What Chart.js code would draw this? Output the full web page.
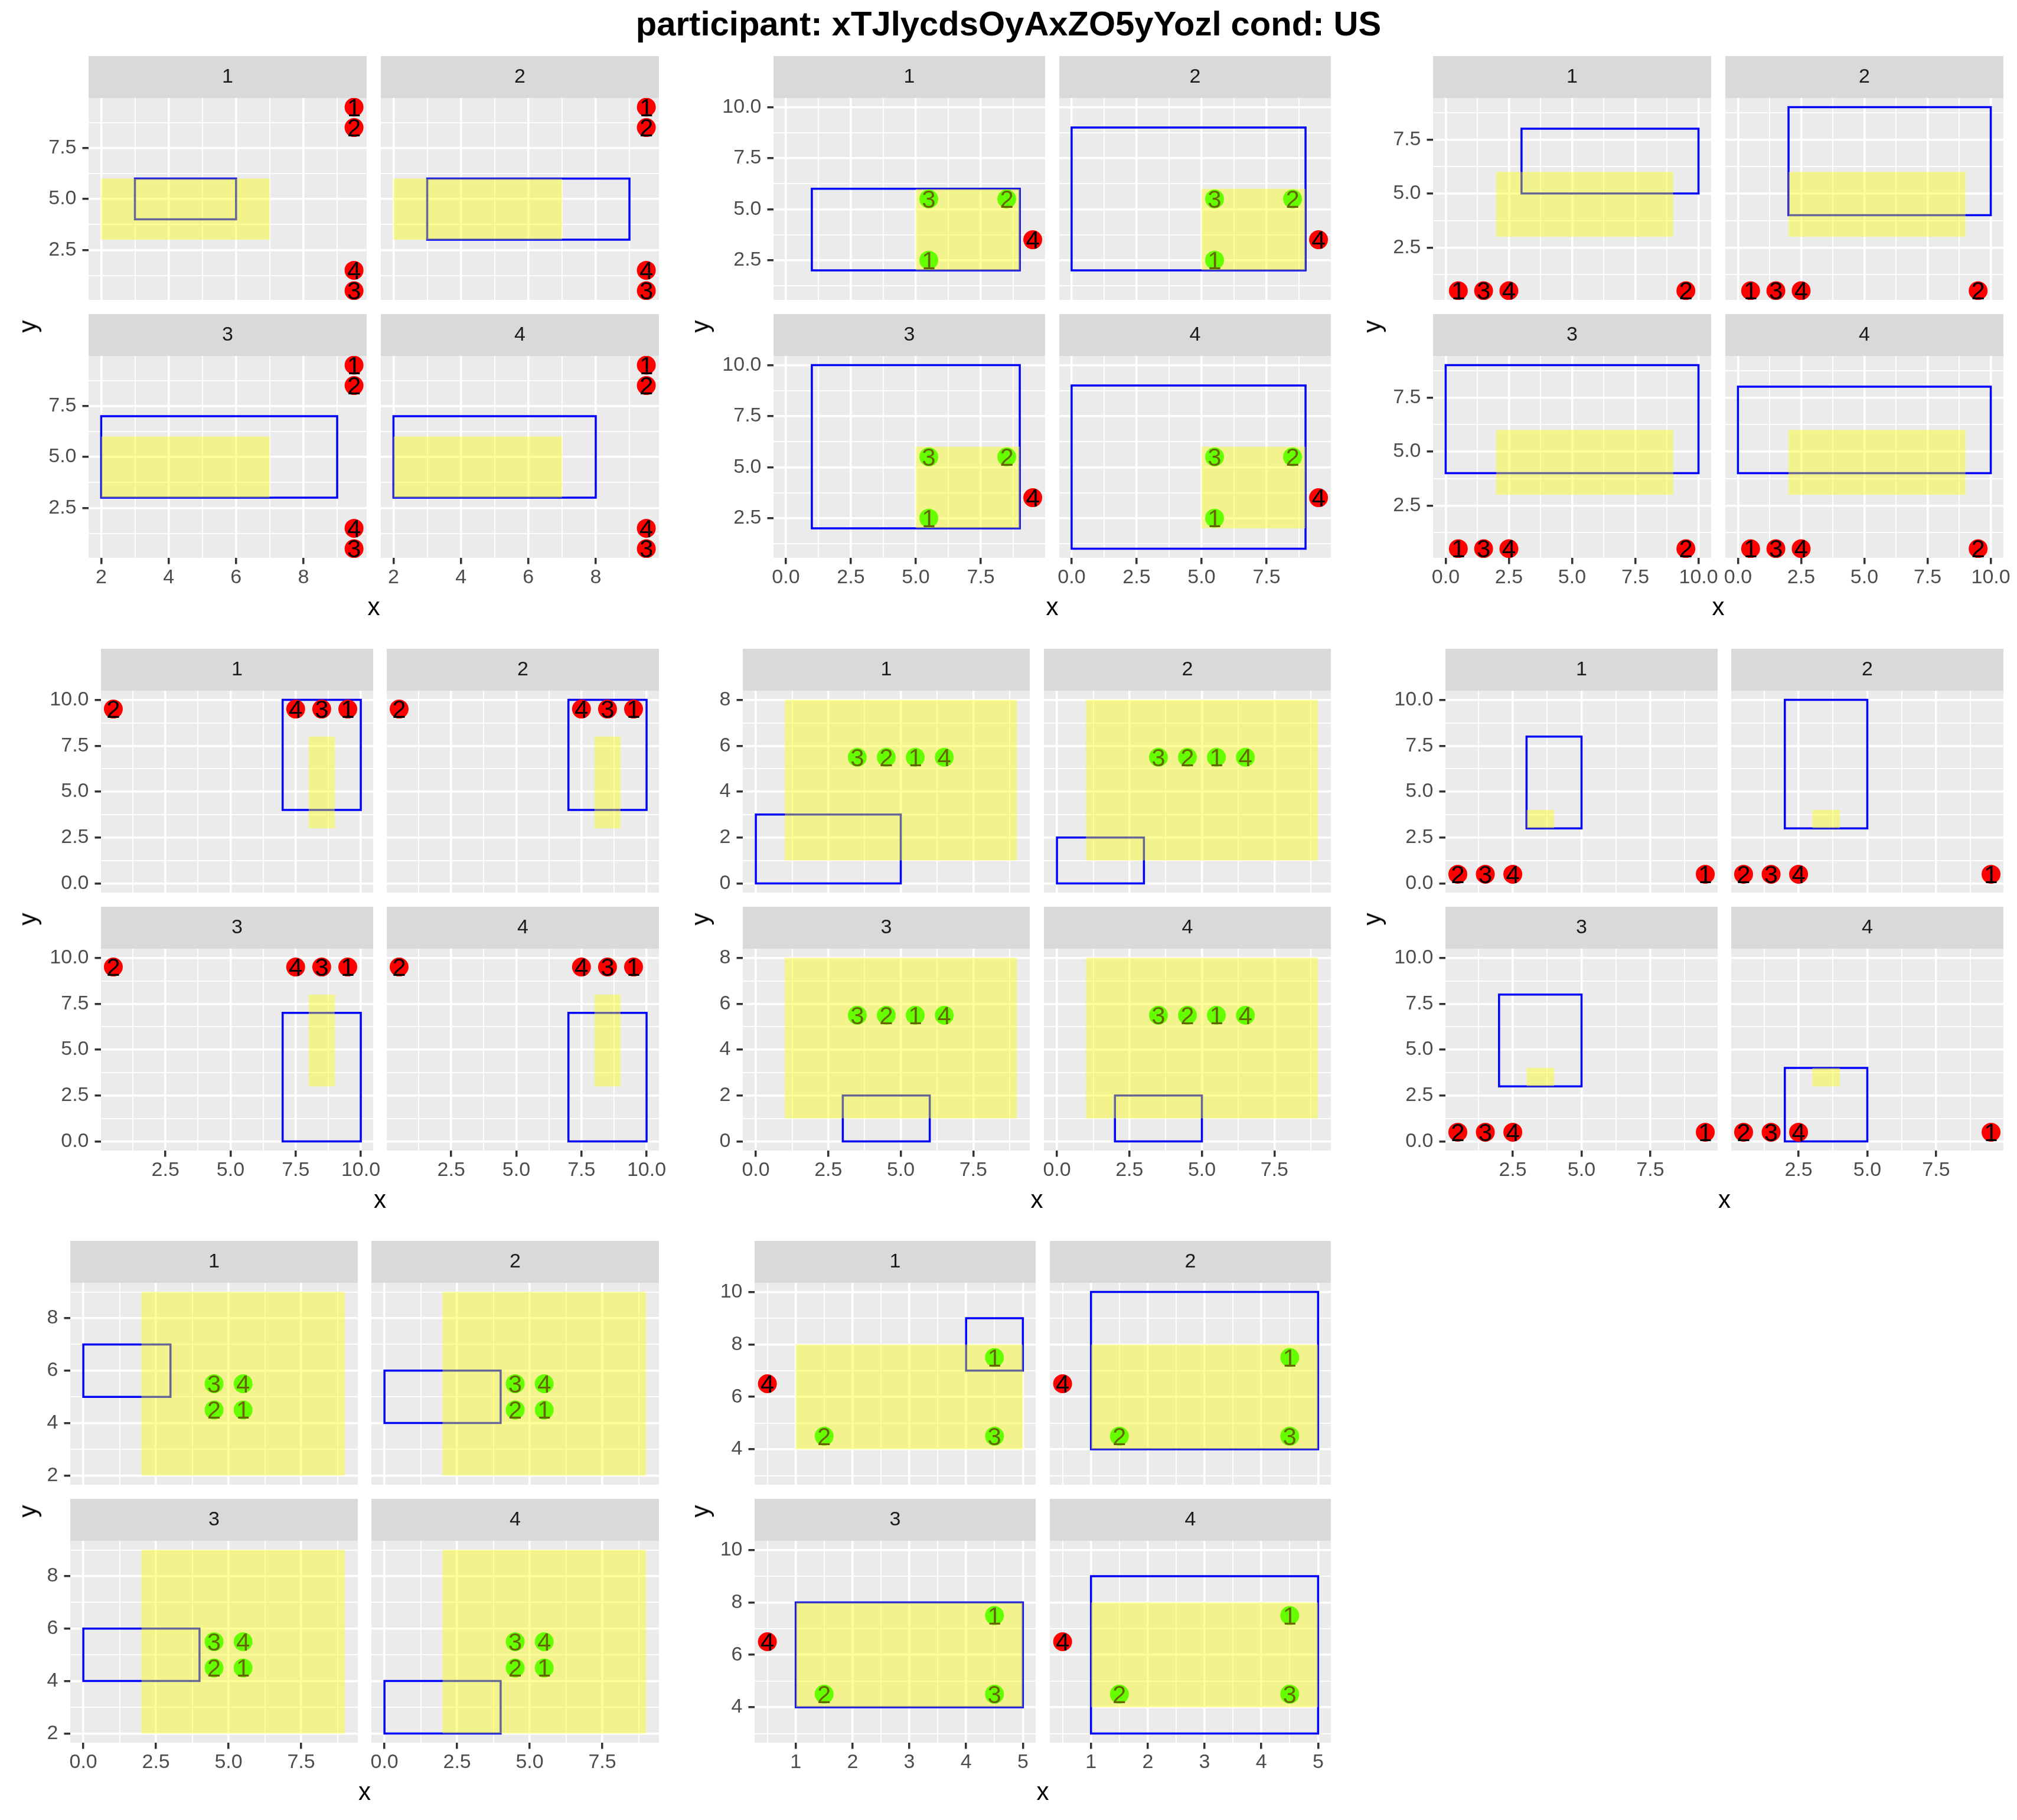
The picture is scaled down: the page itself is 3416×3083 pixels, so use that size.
<!DOCTYPE html>
<html><head><meta charset="utf-8"><title>participant chart</title>
<script src="https://cdn.jsdelivr.net/npm/chart.js@4.4.1/dist/chart.umd.min.js"></script>
<style>
html,body{margin:0;padding:0;background:#ffffff;}
#page{position:relative;width:3416px;height:3083px;overflow:hidden;background:#fff;font-family:'Liberation Sans',Arial,Helvetica,sans-serif;}
#page canvas{position:absolute;}
.lbl{position:absolute;white-space:nowrap;color:#000;z-index:5;text-align:center;}
</style></head><body><div id="page"></div>
<script>
// ---------------- DATA ----------------
const mainTitle = 'participant: xTJlycdsOyAxZO5yYozl cond: US';
const facetLabels = ['1', '2', '3', '4'];
const pointLabels = ['1', '2', '3', '4'];

// group 1
const g1PointX = [9.5, 9.5, 9.5, 9.5];
const g1PointY = [9.5, 8.5, 0.5, 1.5];
const g1Hit = [0, 0, 0, 0];
const g1Target = [2, 7, 3, 6];            // xmin, xmax, ymin, ymax
const g1Blue = [[3, 6, 4, 6], [3, 9, 3, 6], [2, 9, 3, 7], [2, 8, 3, 7]];
const g1XTicks = [2, 4, 6, 8];      const g1XLabels = ['2', '4', '6', '8'];
const g1YTicks = [2.5, 5, 7.5];     const g1YLabels = ['2.5', '5.0', '7.5'];

// group 2
const g2PointX = [5.5, 8.5, 5.5, 9.5];
const g2PointY = [2.5, 5.5, 5.5, 3.5];
const g2Hit = [1, 1, 1, 0];
const g2Target = [5, 9, 2, 6];
const g2Blue = [[1, 9, 2, 6], [0, 9, 2, 9], [1, 9, 2, 10], [0, 9, 1, 9]];
const g2XTicks = [0, 2.5, 5, 7.5];  const g2XLabels = ['0.0', '2.5', '5.0', '7.5'];
const g2YTicks = [2.5, 5, 7.5, 10]; const g2YLabels = ['2.5', '5.0', '7.5', '10.0'];

// group 3
const g3PointX = [0.5, 9.5, 1.5, 2.5];
const g3PointY = [0.5, 0.5, 0.5, 0.5];
const g3Hit = [0, 0, 0, 0];
const g3Target = [2, 9, 3, 6];
const g3Blue = [[3, 10, 5, 8], [2, 10, 4, 9], [0, 10, 4, 9], [0, 10, 4, 8]];
const g3XTicks = [0, 2.5, 5, 7.5, 10]; const g3XLabels = ['0.0', '2.5', '5.0', '7.5', '10.0'];
const g3YTicks = [2.5, 5, 7.5];        const g3YLabels = ['2.5', '5.0', '7.5'];

// group 4
const g4PointX = [9.5, 0.5, 8.5, 7.5];
const g4PointY = [9.5, 9.5, 9.5, 9.5];
const g4Hit = [0, 0, 0, 0];
const g4Target = [8, 9, 3, 8];
const g4Blue = [[7, 10, 4, 10], [7, 10, 4, 10], [7, 10, 0, 7], [7, 10, 0, 7]];
const g4XTicks = [2.5, 5, 7.5, 10];     const g4XLabels = ['2.5', '5.0', '7.5', '10.0'];
const g4YTicks = [0, 2.5, 5, 7.5, 10];  const g4YLabels = ['0.0', '2.5', '5.0', '7.5', '10.0'];

// group 5
const g5PointX = [5.5, 4.5, 3.5, 6.5];
const g5PointY = [5.5, 5.5, 5.5, 5.5];
const g5Hit = [1, 1, 1, 1];
const g5Target = [1, 9, 1, 8];
const g5Blue = [[0, 5, 0, 3], [0, 3, 0, 2], [3, 6, 0, 2], [2, 5, 0, 2]];
const g5XTicks = [0, 2.5, 5, 7.5];  const g5XLabels = ['0.0', '2.5', '5.0', '7.5'];
const g5YTicks = [0, 2, 4, 6, 8];   const g5YLabels = ['0', '2', '4', '6', '8'];

// group 6
const g6PointX = [9.5, 0.5, 1.5, 2.5];
const g6PointY = [0.5, 0.5, 0.5, 0.5];
const g6Hit = [0, 0, 0, 0];
const g6Target = [3, 4, 3, 4];
const g6Blue = [[3, 5, 3, 8], [2, 5, 3, 10], [2, 5, 3, 8], [2, 5, 0, 4]];
const g6XTicks = [2.5, 5, 7.5];         const g6XLabels = ['2.5', '5.0', '7.5'];
const g6YTicks = [0, 2.5, 5, 7.5, 10];  const g6YLabels = ['0.0', '2.5', '5.0', '7.5', '10.0'];

// group 7
const g7PointX = [5.5, 4.5, 4.5, 5.5];
const g7PointY = [4.5, 4.5, 5.5, 5.5];
const g7Hit = [1, 1, 1, 1];
const g7Target = [2, 9, 2, 9];
const g7Blue = [[0, 3, 5, 7], [0, 4, 4, 6], [0, 4, 4, 6], [0, 4, 2, 4]];
const g7XTicks = [0, 2.5, 5, 7.5];  const g7XLabels = ['0.0', '2.5', '5.0', '7.5'];
const g7YTicks = [2, 4, 6, 8];      const g7YLabels = ['2', '4', '6', '8'];

// group 8
const g8PointX = [4.5, 1.5, 4.5, 0.5];
const g8PointY = [7.5, 4.5, 4.5, 6.5];
const g8Hit = [1, 1, 1, 0];
const g8Target = [1, 5, 4, 8];
const g8Blue = [[4, 5, 7, 9], [1, 5, 4, 10], [1, 5, 4, 8], [1, 5, 3, 9]];
const g8XTicks = [1, 2, 3, 4, 5];   const g8XLabels = ['1', '2', '3', '4', '5'];
const g8YTicks = [4, 6, 8, 10];     const g8YLabels = ['4', '6', '8', '10'];

const groups = [
  {px: g1PointX, py: g1PointY, hit: g1Hit, target: g1Target, blue: g1Blue, xt: g1XTicks, xl: g1XLabels, yt: g1YTicks, yl: g1YLabels},
  {px: g2PointX, py: g2PointY, hit: g2Hit, target: g2Target, blue: g2Blue, xt: g2XTicks, xl: g2XLabels, yt: g2YTicks, yl: g2YLabels},
  {px: g3PointX, py: g3PointY, hit: g3Hit, target: g3Target, blue: g3Blue, xt: g3XTicks, xl: g3XLabels, yt: g3YTicks, yl: g3YLabels},
  {px: g4PointX, py: g4PointY, hit: g4Hit, target: g4Target, blue: g4Blue, xt: g4XTicks, xl: g4XLabels, yt: g4YTicks, yl: g4YLabels},
  {px: g5PointX, py: g5PointY, hit: g5Hit, target: g5Target, blue: g5Blue, xt: g5XTicks, xl: g5XLabels, yt: g5YTicks, yl: g5YLabels},
  {px: g6PointX, py: g6PointY, hit: g6Hit, target: g6Target, blue: g6Blue, xt: g6XTicks, xl: g6XLabels, yt: g6YTicks, yl: g6YLabels},
  {px: g7PointX, py: g7PointY, hit: g7Hit, target: g7Target, blue: g7Blue, xt: g7XTicks, xl: g7XLabels, yt: g7YTicks, yl: g7YLabels},
  {px: g8PointX, py: g8PointY, hit: g8Hit, target: g8Target, blue: g8Blue, xt: g8XTicks, xl: g8XLabels, yt: g8YTicks, yl: g8YLabels}
];

// ---------------- LAYOUT / STYLE ----------------
const FONT = "'Liberation Sans', Arial, Helvetica, sans-serif";
Chart.defaults.font.family = FONT;
const PAGE_W = 3416;
const CELL_W = PAGE_W / 3;
const panelOffsets = [150, 171, 150, 171, 119, 171, 118.5, 139.5];
const stripTops = [95, 1098.5, 2101.5];
const STRIP_H = 71, PANEL_H = 342, VGAP = 24, HGAP = 23, RIGHT_MARGIN = 23;
const BOTTOM_H = 70, EXTRA = 45;
const TICK_FONT = 34, TEXT_FONT = 42;
const COL_HIT = '#00FF00', COL_MISS = '#FF0000';
const COL_TARGET = 'rgba(255,255,0,0.4)', COL_BLUE = '#0000FF';

const page = document.getElementById('page');

function addText(txt, cx, cy, size, opts) {
  const d = document.createElement('div');
  d.className = 'lbl';
  d.textContent = txt;
  d.style.fontSize = size + 'px';
  d.style.lineHeight = size + 'px';
  d.style.fontWeight = (opts && opts.bold) ? 'bold' : 'normal';
  d.style.left = cx + 'px';
  d.style.top = cy + 'px';
  d.style.transform = 'translate(-50%,-50%)' + ((opts && opts.rot) ? ' rotate(-90deg)' : '');
  page.appendChild(d);
}

function limits(vals) {
  const mn = Math.min(...vals), mx = Math.max(...vals);
  const e = (mx - mn) * 0.05;
  return [mn - e, mx + e];
}
function minorBreaks(majors, lim) {
  const step = majors[1] - majors[0];
  const out = [];
  for (let i = -1; i < majors.length; i++) {
    const v = majors[0] + (i + 0.5) * step;
    if (v >= lim[0] && v <= lim[1]) out.push(v);
  }
  return out;
}
function rectPoly(r) {
  return [{x: r[0], y: r[2]}, {x: r[1], y: r[2]}, {x: r[1], y: r[3]}, {x: r[0], y: r[3]}, {x: r[0], y: r[2]}, {x: r[1], y: r[2]}];
}

function makeScale(axis, lim, majors, labels, show, size) {
  const minors = minorBreaks(majors, lim);
  const isMajor = ctx => ctx && ctx.tick && majors.indexOf(ctx.tick.value) >= 0;
  return {
    type: 'linear',
    position: axis === 'x' ? 'bottom' : 'left',
    min: lim[0], max: lim[1], bounds: 'data',
    afterBuildTicks: s => {
      const all = majors.map(v => ({value: v})).concat(minors.filter(v => majors.indexOf(v) < 0).map(v => ({value: v})));
      all.sort((a, b) => a.value - b.value);
      s.ticks = all;
    },
    afterFit: s => {
      if (axis === 'x') s.height = size; else s.width = size;
      s.paddingTop = 0; s.paddingBottom = 0; s.paddingLeft = 0; s.paddingRight = 0;
    },
    ticks: {
      display: show, autoSkip: false, maxRotation: 0, minRotation: 0,
      padding: axis === 'x' ? 3 : 10,
      color: '#4D4D4D', font: {size: TICK_FONT, family: FONT},
      callback: v => { const i = majors.indexOf(v); return i >= 0 ? labels[i] : ''; }
    },
    grid: {
      color: '#FFFFFF',
      lineWidth: ctx => isMajor(ctx) ? 3.5 : 1.8,
      drawTicks: show, tickLength: 10.5,
      tickColor: ctx => isMajor(ctx) ? '#333333' : 'rgba(0,0,0,0)',
      tickWidth: 3.5
    },
    border: {display: false}
  };
}

const panelPlugin = {
  id: 'panelDecor',
  beforeDraw(chart) {
    const {ctx, chartArea: a} = chart;
    ctx.save();
    ctx.fillStyle = '#EBEBEB';
    ctx.fillRect(a.left, a.top, a.right - a.left, a.bottom - a.top);
    ctx.fillStyle = '#D9D9D9';
    ctx.fillRect(a.left, 0, a.right - a.left, a.top);
    ctx.restore();
  },
  afterDatasetDraw(chart, args) {
    if (args.index !== 1) return;
    const {ctx, chartArea: a} = chart;
    const labels = chart.data.datasets[1].pointText;
    ctx.save();
    ctx.beginPath();
    ctx.rect(a.left, a.top, a.right - a.left, a.bottom - a.top);
    ctx.clip();
    ctx.fillStyle = '#000000';
    ctx.font = TEXT_FONT + 'px ' + FONT;
    ctx.textAlign = 'center';
    ctx.textBaseline = 'alphabetic';
    args.meta.data.forEach((el, i) => {
      ctx.fillText(labels[i], el.x, el.y + TEXT_FONT * 0.358);
    });
    ctx.restore();
  }
};

// main title
addText(mainTitle, PAGE_W / 2, 40, 58, {bold: true});

groups.forEach((G, gi) => {
  const row = Math.floor(gi / 3), col = gi % 3;
  const cellLeft = col * CELL_W;
  const S1 = Math.round(stripTops[row]);
  const L1 = Math.round(cellLeft + panelOffsets[gi]);
  const R2 = Math.round(cellLeft + CELL_W - RIGHT_MARGIN);
  const W = Math.floor((R2 - L1 - HGAP) / 2);
  const lefts = [L1, R2 - W];
  const tops = [S1, S1 + STRIP_H + PANEL_H + VGAP];
  const leftW = L1 - Math.round(cellLeft + 65);

  const xs = G.px.concat([G.target[0], G.target[1]]);
  const ys = G.py.concat([G.target[2], G.target[3]]);
  G.blue.forEach(b => { xs.push(b[0], b[1]); ys.push(b[2], b[3]); });
  const xlim = limits(xs), ylim = limits(ys);

  for (let p = 0; p < 4; p++) {
    const pr = Math.floor(p / 2), pc = p % 2;
    const showY = pc === 0, showX = pr === 1;
    const lw = showY ? leftW : 0;
    const bh = showX ? BOTTOM_H : 0;
    const cv = document.createElement('canvas');
    const cw = lw + W + 2 * EXTRA, ch = STRIP_H + PANEL_H + bh;
    cv.width = cw; cv.height = ch;
    cv.style.width = cw + 'px'; cv.style.height = ch + 'px';
    cv.style.left = (lefts[pc] - lw - EXTRA) + 'px';
    cv.style.top = tops[pr] + 'px';
    page.appendChild(cv);

    const pts = G.px.map((x, i) => ({x: x, y: G.py[i]}));
    new Chart(cv, {
      type: 'scatter',
      data: {
        datasets: [
          { // target area (drawn last, on top, translucent)
            data: rectPoly(G.target), showLine: true, fill: 'shape',
            backgroundColor: COL_TARGET, borderColor: 'rgba(0,0,0,0)', borderWidth: 0,
            pointRadius: 0, clip: 0
          },
          { // points
            data: pts, pointText: pointLabels, showLine: false,
            pointRadius: 16, pointHoverRadius: 16, pointBorderWidth: 0,
            pointBorderColor: 'rgba(0,0,0,0)',
            pointBackgroundColor: G.hit.map(h => h ? COL_HIT : COL_MISS),
            clip: 0
          },
          { // response rectangle
            data: rectPoly(G.blue[p]), showLine: true, fill: false,
            borderColor: COL_BLUE, borderWidth: 3.5, borderJoinStyle: 'miter',
            pointRadius: 0, clip: 0
          }
        ]
      },
      options: {
        responsive: false, animation: false, events: [], devicePixelRatio: 1,
        layout: {padding: {left: EXTRA, right: EXTRA, top: 0, bottom: 0}, autoPadding: false},
        plugins: {
          legend: {display: false}, tooltip: {enabled: false},
          title: {
            display: true, text: facetLabels[p], fullSize: false, color: '#1A1A1A',
            font: {size: TICK_FONT, weight: 'normal', family: FONT, lineHeight: 1.2},
            padding: {top: 15.1, bottom: 15.1}
          }
        },
        scales: {
          x: makeScale('x', xlim, G.xt, G.xl, showX, bh),
          y: makeScale('y', ylim, G.yt, G.yl, showY, lw)
        }
      },
      plugins: [panelPlugin]
    });
  }

  const panelBottom = tops[1] + STRIP_H + PANEL_H;
  addText('x', (L1 + R2) / 2, panelBottom + 83, TEXT_FONT);
  addText('y', cellLeft + 47, S1 + 458, TEXT_FONT, {rot: true});
});
</script></body></html>
